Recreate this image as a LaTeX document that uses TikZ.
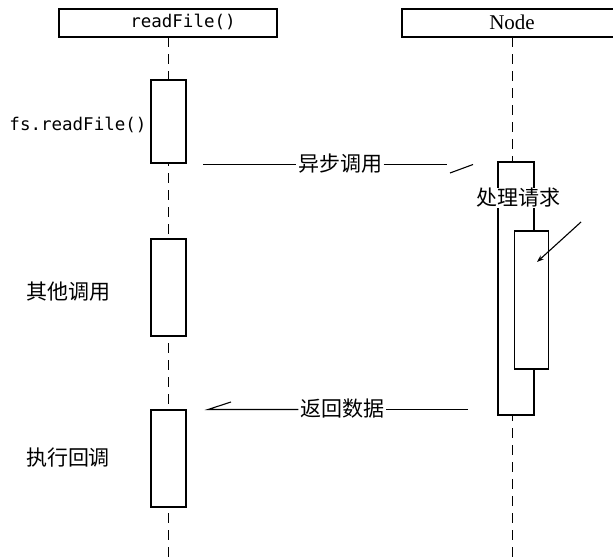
\documentclass[tikz,border=0pt]{standalone}
\usepackage{fontspec}
\setmainfont{Liberation Serif}
\setmonofont{DejaVu Sans Mono}
\newfontfamily\cjk{Noto Sans CJK SC}
\usetikzlibrary{arrows.meta}
\begin{document}
\begin{tikzpicture}[x=1pt,y=-1pt,line width=1.1pt,
  header/.style={draw,fill=white,minimum height=28pt,inner sep=0pt},
  actbox/.style={draw,fill=white,minimum width=35pt,inner sep=0pt},
  lifeline/.style={dash pattern=on 10pt off 7pt},
  monotext/.style={font=\ttfamily\fontsize{17.5}{20}\selectfont,inner sep=0pt},
  cjktext/.style={font=\cjk\fontsize{21}{24}\selectfont,inner sep=1pt}]
\useasboundingbox (0,0) rectangle (613,557);
% headers
\node[header,minimum width=218pt] (hA) at (168,23) {};
\node[monotext] (tA) at (183,22) {readFile()};
\node[header,minimum width=212pt] (hB) at (508,23) {};
\node[font=\fontsize{21}{24}\selectfont,inner sep=0pt] (tB) at (512,22) {Node};
% lifelines
\coordinate (endA) at (168.5,557);
\coordinate (endB) at (512.5,557);
\draw[lifeline] (168.5,37) -- (endA);
\draw[lifeline] (512.5,37) -- (endB);
% activation boxes on readFile
\node[actbox,minimum height=83pt] (a1) at (168.5,121.5) {};
\node[actbox,minimum height=97pt] (a2) at (168.5,287.5) {};
\node[actbox,minimum height=97pt] (a3) at (168.5,458.5) {};
% activation boxes on Node
\node[actbox,minimum height=253pt,minimum width=36pt] (b1) at (516,288.5) {};
\node[actbox,minimum height=138pt,minimum width=34pt] (b2) at (531.5,300) {};
% left labels
\node[monotext,anchor=east] (l1) at (147,125) {fs.readFile()};
\node[cjktext] (l2) at (69,292) {其他调用};
\node[cjktext] (l3) at (68,458) {执行回调};
% process label
\node[cjktext,fill=white,inner sep=0pt] (p1) at (518,198) {处理请求};
\coordinate (pf) at (581,222);
\coordinate (pt) at (537,262);
\draw[-{Stealth[length=7pt,width=5pt]}] (pf) -- (pt);
% async call message
\node[cjktext] (m1) at (340,164) {异步调用};
\coordinate (m1s) at (203,164.5);
\coordinate (m1e) at (447,164.5);
\coordinate (m1b1) at (450,173);
\coordinate (m1b2) at (473,164.5);
\draw (m1s) -- (m1.west |- m1s);
\draw (m1.east |- m1e) -- (m1e);
\draw (m1b1) -- (m1b2);
% return message
\node[cjktext] (m2) at (342,409) {返回数据};
\coordinate (m2s) at (468,409.5);
\coordinate (m2e) at (208,409.5);
\coordinate (m2b) at (231,402);
\draw (m2s) -- (m2.east |- m2s);
\draw (m2.west |- m2e) -- (m2e) -- (m2b);
\end{tikzpicture}
\end{document}
